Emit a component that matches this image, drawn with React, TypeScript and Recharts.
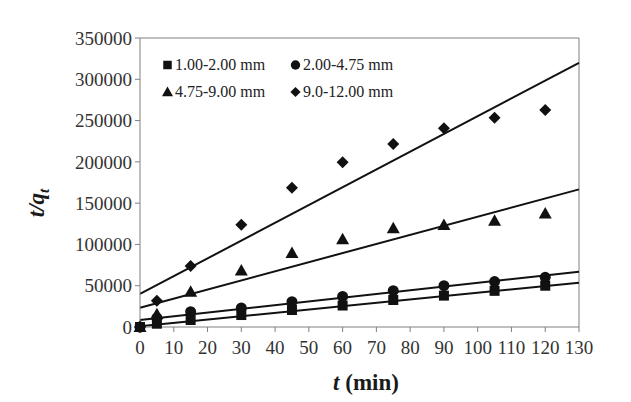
import {
  ComposedChart, Scatter, Line, XAxis, YAxis, Legend, ReferenceLine
} from 'recharts'

const times = [0, 5, 15, 30, 45, 60, 75, 90, 105, 120]
const size1to2 = [0, 4000, 8500, 14500, 20600, 26000, 32700, 38000, 43800, 50000]
const size2to475 = [0, 11000, 18500, 23000, 30600, 37000, 44000, 50000, 55000, 60200]
const size475to9 = [0, 15500, 42700, 68500, 89500, 106200, 119500, 123500, 128700, 137600]
const size9to12 = [0, 31800, 73800, 123800, 168600, 199400, 221500, 240600, 253400, 262700]

// fitted lines, read at t = 0 and t = 130
const fitTimes = [0, 130]
const fit1to2 = [1000, 53600]
const fit2to475 = [8500, 67000]
const fit475to9 = [23400, 166700]
const fit9to12 = [40000, 320000]

const xTicks = [0, 10, 20, 30, 40, 50, 60, 70, 80, 90, 100, 110, 120, 130]
const yTicks = [0, 50000, 100000, 150000, 200000, 250000, 300000, 350000]
const seriesNames = ['1.00-2.00 mm', '2.00-4.75 mm', '4.75-9.00 mm', '9.0-12.00 mm']

const toPoints = (xs: number[], vals: number[]) => xs.map((t, i) => ({ t, v: vals[i] }))

const INK = '#111'
const AXIS = '#808080'
const FONT = '"Liberation Serif", "Times New Roman", serif'

type Kind = 'square' | 'circle' | 'triangle' | 'diamond'

function Marker({ kind, cx, cy }: { kind: Kind; cx: number; cy: number }) {
  if (kind === 'square') return <rect x={cx - 5} y={cy - 5} width={10} height={10} fill={INK} />
  if (kind === 'circle') return <circle cx={cx} cy={cy} r={5.5} fill={INK} />
  if (kind === 'triangle')
    return <polygon points={`${cx},${cy - 6.5} ${cx + 6.5},${cy + 5} ${cx - 6.5},${cy + 5}`} fill={INK} />
  return <polygon points={`${cx},${cy - 6} ${cx + 6},${cy} ${cx},${cy + 6} ${cx - 6},${cy}`} fill={INK} />
}

const shapeOf = (kind: Kind) => (p: any) => <Marker kind={kind} cx={p.cx} cy={p.cy} />

const kinds: Kind[] = ['square', 'circle', 'triangle', 'diamond']

function LegendBox() {
  return (
    <div style={{
      display: 'grid', gridTemplateColumns: '128px 128px', rowGap: 0,
      fontFamily: FONT, fontSize: 16, color: '#222', lineHeight: '27px'
    }}>
      {seriesNames.map((n, i) => (
        <div key={n} style={{ display: 'flex', alignItems: 'center', whiteSpace: 'nowrap' }}>
          <svg width={13} height={14} style={{ marginRight: 1 }}>
            <g transform="scale(0.85)" style={{ transformOrigin: '6.5px 7px' }}>
              <Marker kind={kinds[i]} cx={6.5} cy={7} />
            </g>
          </svg>
          <span>{n}</span>
        </div>
      ))}
    </div>
  )
}

function YTitle({ viewBox }: any) {
  const cx = 44, cy = 203
  return (
    <text x={cx} y={cy} transform={`rotate(-90, ${cx}, ${cy})`} textAnchor="middle"
      fontFamily={FONT} fontSize={23} fontWeight="bold" fontStyle="italic" fill="#1a1a1a">
      t/q<tspan fontSize={15} dy={5}>t</tspan>
    </text>
  )
}

function XTitle() {
  return (
    <text x={366} y={390} textAnchor="middle" fontFamily={FONT} fontSize={23}
      fontWeight="bold" fill="#1a1a1a">
      <tspan fontStyle="italic">t</tspan> (min)
    </text>
  )
}

export default function App() {
  const tick = { fontFamily: FONT, fontSize: 19, fill: '#333' }
  const scatters = [size1to2, size2to475, size475to9, size9to12]
  const fits = [fit1to2, fit2to475, fit475to9, fit9to12]
  return (
    <div style={{ position: 'absolute', left: 0, top: 0, background: '#fff' }}>
      <ComposedChart width={631} height={402} margin={{ top: 38, right: 52, left: 0, bottom: 0 }}>
        <XAxis
          dataKey="t" type="number" domain={[0, 130]} ticks={xTicks} interval={0}
          height={75} stroke={AXIS} tickSize={5} tickMargin={9} tick={tick}
          label={<XTitle />}
        />
        <YAxis
          dataKey="v" type="number" domain={[0, 350000]} ticks={yTicks} interval={0}
          width={140} stroke={AXIS} tickSize={5} tickMargin={3} tick={tick}
          label={<YTitle />}
        />
        <ReferenceLine y={350000} stroke={AXIS} strokeWidth={1} />
        <ReferenceLine x={130} stroke={AXIS} strokeWidth={1} />
        {fits.map((f, i) => (
          <Line
            key={'fit' + i} data={toPoints(fitTimes, f)} dataKey="v" type="linear"
            stroke={INK} strokeWidth={2} dot={false} activeDot={false}
            isAnimationActive={false} legendType="none"
          />
        ))}
        {scatters.map((s, i) => (
          <Scatter
            key={seriesNames[i]} name={seriesNames[i]} data={toPoints(times, s)} dataKey="v"
            fill={INK} shape={shapeOf(kinds[i])} isAnimationActive={false}
          />
        ))}
        <Legend
          layout="vertical" align="center" verticalAlign="middle"
          wrapperStyle={{ top: 51, left: 161, width: 270 }}
          content={() => <LegendBox />}
        />
      </ComposedChart>
    </div>
  )
}
